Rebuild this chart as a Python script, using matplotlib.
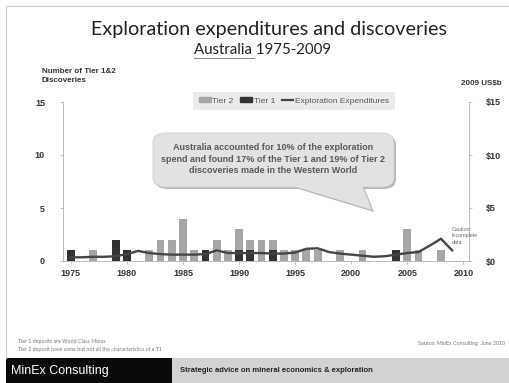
import numpy as np
import matplotlib.pyplot as plt
from matplotlib.patches import Rectangle, FancyBboxPatch, Polygon
from matplotlib.lines import Line2D

years = list(range(1975, 2010))
tier1 = [1, 0, 0, 0, 2, 1, 0, 0, 0, 0, 0, 0, 1, 0, 0, 1, 1, 0, 1, 0,
         0, 0, 0, 0, 0, 0, 0, 0, 0, 1, 0, 0, 0, 0, 0]
tier2 = [0, 0, 1, 0, 0, 0, 0, 1, 2, 2, 4, 1, 0, 2, 1, 2, 1, 2, 1, 1,
         1, 1, 1, 0, 1, 0, 1, 0, 0, 0, 3, 1, 0, 1, 0]
expend = [0.35, 0.35, 0.4, 0.4, 0.45, 0.65, 0.95, 0.75, 0.65, 0.6, 0.6, 0.6,
          0.65, 1.0, 0.75, 0.75, 0.75, 0.75, 0.7, 0.7, 0.8, 1.15, 1.2, 0.85,
          0.7, 0.6, 0.5, 0.4, 0.45, 0.6, 0.75, 0.85, 1.45, 2.1, 1.0]
year_ticks = [1975, 1980, 1985, 1990, 1995, 2000, 2005, 2010]
left_ticks = [0, 5, 10, 15]
right_labels = ['$0', '$5', '$10', '$15']

W, H = 509, 383
def fx(px): return px / W
def fy(py): return 1 - py / H

LIGHT = '#a6a6a6'
DARK = '#333333'
LINEC = '#454545'
TXT = '#333333'
NARROW = ['Liberation Sans Narrow', 'Liberation Sans', 'DejaVu Sans']
BOLDF = ['Liberation Sans Narrow', 'Liberation Sans', 'DejaVu Sans']

fig = plt.figure(figsize=(W / 100, H / 100), dpi=100)
fig.patch.set_facecolor('white')

# slide border
fig.add_artist(Line2D([fx(6), fx(509)], [fy(6), fy(6)], color='#d0d0d0', lw=0.8))
fig.add_artist(Line2D([fx(6), fx(6)], [fy(6), fy(358)], color='#d0d0d0', lw=0.8))

# titles
fig.text(fx(269), fy(30), 'Exploration expenditures and discoveries', family='Lato',
         fontsize=14.2, color='#222222', ha='center', va='center')
fig.text(fx(263), fy(50), 'Australia 1975-2009', family='Lato', fontsize=10.8,
         color='#222222', ha='center', va='center')
fig.add_artist(Line2D([fx(194), fx(254)], [fy(57.5), fy(57.5)], color='#888888', lw=0.7))

ax = fig.add_axes([fx(63), fy(261), fx(469) - fx(63), (261 - 102) / H])
ax.bar(years, tier1, width=0.7, color=DARK, label='Tier 1', zorder=3)
ax.bar(years, tier2, width=0.7, bottom=tier1, color=LIGHT, label='Tier 2', zorder=2)
ax.set_xlim(1974.3, 2010.5)
ax.set_ylim(0, 15)
ax.set_xticks(year_ticks)
ax.set_yticks(left_ticks)
ax.spines['top'].set_visible(False)
for s in ['left', 'right', 'bottom']:
    ax.spines[s].set_color('#bbbbbb')
    ax.spines[s].set_linewidth(0.7)
ax.tick_params(axis='both', colors='#bbbbbb', length=2, width=0.6, labelsize=6.5,
               labelcolor=TXT)
ax.tick_params(axis='y', pad=11)
for lab in ax.get_xticklabels() + ax.get_yticklabels():
    lab.set_fontweight('bold')
    lab.set_family(BOLDF)

ax2 = ax.twinx()
ax2.plot(years, expend, color=LINEC, lw=1.7, label='Exploration Expenditures', zorder=4)
ax2.set_ylim(0, 15)
ax2.set_yticks(left_ticks)
ax2.set_yticklabels(right_labels)
for s in ['top', 'left', 'bottom']:
    ax2.spines[s].set_visible(False)
ax2.spines['right'].set_color('#bbbbbb')
ax2.spines['right'].set_linewidth(0.7)
ax2.tick_params(axis='y', colors='#bbbbbb', length=2, width=0.6, labelsize=6.5,
                labelcolor=TXT, pad=10)
for lab in ax2.get_yticklabels():
    lab.set_fontweight('bold')
    lab.set_family(BOLDF)

# axis titles
fig.text(fx(42), fy(68), 'Number of Tier 1&2\nDiscoveries', family=BOLDF, fontsize=5.8,
         fontweight='bold', color=TXT, ha='left', va='top', linespacing=1.3)
fig.text(fx(502), fy(84), '2009 US$b', family=BOLDF, fontsize=5.8,
         fontweight='bold', color=TXT, ha='right', va='center')

# legend
handles = [Rectangle((0, 0), 1, 1, color=LIGHT), Rectangle((0, 0), 1, 1, color=DARK),
           Line2D([], [], color=LINEC, lw=1.6)]
leg = fig.legend(handles, ['Tier 2', 'Tier 1', 'Exploration Expenditures'], ncol=3,
                 loc='center', bbox_to_anchor=(fx(294), fy(101)), frameon=True,
                 fancybox=False, prop={'family': NARROW, 'size': 6},
                 handlelength=1.4, handleheight=0.4, handletextpad=0.2,
                 columnspacing=0.8, borderpad=0.7)
leg.get_frame().set_facecolor('#e8e8e8')
leg.get_frame().set_edgecolor('none')
for t in leg.get_texts():
    t.set_color('#555555')

# callout with shadow
def callout(dx, dy, fc, ec, z):
    box = FancyBboxPatch((fx(153 + dx), fy(187 + dy)), fx(394) - fx(153), (187 - 133) / H,
                         boxstyle='round,pad=0,rounding_size=0.025', transform=fig.transFigure,
                         facecolor=fc, edgecolor=ec, lw=0.6, zorder=z)
    tail = Polygon([(fx(290 + dx), fy(185 + dy)), (fx(372 + dx), fy(210 + dy)),
                    (fx(362 + dx), fy(185 + dy))], closed=True, transform=fig.transFigure,
                   facecolor=fc, edgecolor='none', zorder=z)
    fig.add_artist(box)
    fig.add_artist(tail)

callout(2, 2, '#b8b8b8', 'none', 5)
callout(0, 0, '#e2e2e2', '#cfcfcf', 6)
fig.text(fx(273), fy(159), 'Australia accounted for 10% of the exploration\n'
         'spend and found 17% of the Tier 1 and 19% of Tier 2\n'
         'discoveries made in the Western World', family=NARROW, fontsize=6.5,
         fontweight='bold', color='#5a5a5a', ha='center', va='center',
         linespacing=1.35, zorder=7)

fig.text(fx(452), fy(236), 'Caution:\nIncomplete\ndata', family=NARROW, fontsize=3.8,
         color='#666666', ha='left', va='center', linespacing=1.3)

# notes
fig.text(fx(18), fy(341), 'Tier 1 deposits are World Class Mines', family='Lato',
         fontsize=3.8, color='#777777', ha='left', va='center')
fig.text(fx(18), fy(349), 'Tier 2 deposit have some but not all the characteristics of a T1',
         family='Lato', fontsize=3.8, color='#777777', ha='left', va='center')
fig.text(fx(505), fy(343), 'Source: MinEx Consulting  June 2010', family='Lato',
         fontsize=3.8, color='#777777', ha='right', va='center')

# footer
fig.add_artist(Rectangle((fx(6), 0), fx(172) - fx(6), fy(358), transform=fig.transFigure,
                         facecolor='#0a0a0a', edgecolor='none'))
fig.add_artist(Rectangle((fx(172), 0), 1 - fx(172), fy(358), transform=fig.transFigure,
                         facecolor='#d2d2d2', edgecolor='none'))
fig.text(fx(11), fy(371), 'MinEx Consulting', family='Liberation Sans', fontsize=9,
         color='white', ha='left', va='center')
fig.text(fx(180), fy(371), 'Strategic advice on mineral economics & exploration',
         family='Liberation Sans', fontsize=5.5, fontweight='bold', color='#222222',
         ha='left', va='center')

fig.savefig('out.png', dpi=100)
